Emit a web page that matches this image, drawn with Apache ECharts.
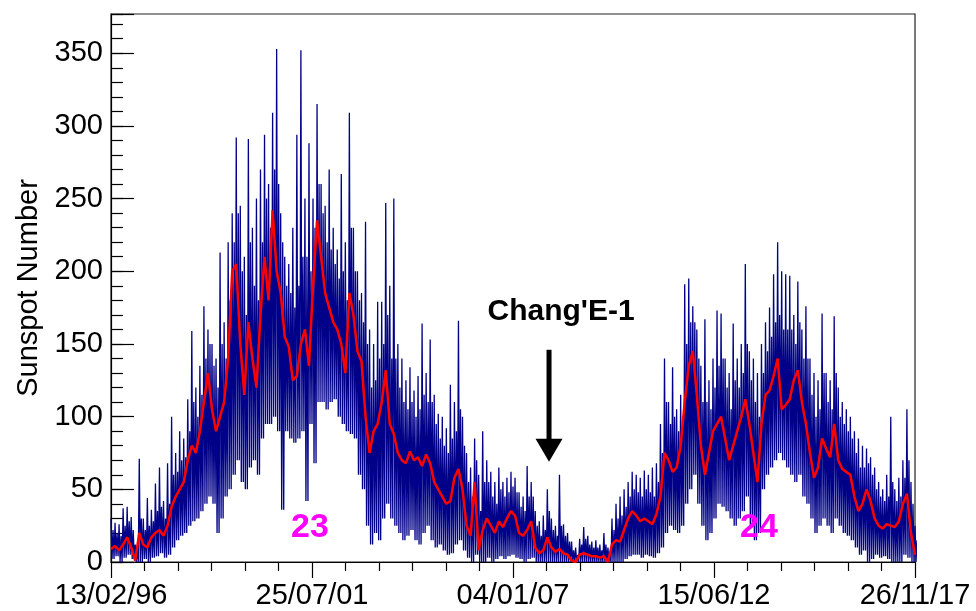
<!DOCTYPE html>
<html>
<head>
<meta charset="utf-8">
<script src="https://cdn.jsdelivr.net/npm/echarts@6/dist/echarts.min.js"></script>
<style>
  html, body { margin: 0; padding: 0; background: #ffffff; }
  #chart { width: 976px; height: 611px; }
</style>
</head>
<body>
<div id="chart"></div>
<script>
// Daily sunspot number, 13/02/1996 - 26/11/2017, in 200 slots of ~40 days.
// dailyHigh: highest daily value in the slot (the spikes),
// dailyTypical: usual upper level of the daily values in the slot,
// dailyLow: lowest daily value in the slot,
// smoothed: running mean of the daily values (red trace).
const START_UTC = Date.UTC(1996, 1, 13);
const TOTAL_DAYS = 7957;            // 13/02/96 .. 26/11/17
const X_DIVISIONS = 4;

const dailyHigh = [
  30, 27, 26, 37, 38, 31, 12, 71, 30, 44,
  36, 54, 65, 42, 68, 100, 75, 90, 85, 112,
  159, 120, 135, 176, 160, 150, 140, 213, 165, 220,
  240, 292, 245, 210, 291, 230, 250, 270, 294, 260,
  309, 353, 240, 210, 205, 230, 294, 352, 250, 288,
  250, 315, 260, 245, 270, 230, 215, 267, 220, 309,
  230, 200, 185, 234, 160, 150, 179, 179, 247, 190,
  250, 150, 140, 125, 134, 118, 128, 164, 130, 153,
  115, 102, 100, 92, 122, 110, 166, 100, 75, 65,
  85, 60, 90, 70, 62, 55, 65, 55, 58, 62,
  58, 48, 45, 66, 55, 35, 28, 32, 50, 30,
  25, 60, 26, 20, 14, 10, 16, 24, 18, 14,
  15, 12, 20, 10, 30, 40, 45, 50, 55, 62,
  60, 58, 63, 60, 65, 68, 95, 140, 110, 134,
  105, 115, 191, 195, 176, 160, 135, 167, 125, 140,
  173, 171, 140, 130, 164, 140, 150, 205, 145, 140,
  130, 150, 165, 175, 198, 220, 200, 198, 197, 170,
  193, 160, 176, 140, 130, 125, 171, 130, 125, 169,
  120, 110, 105, 100, 90, 85, 80, 78, 72, 65,
  55, 50, 60, 100, 50, 58, 70, 105, 55, 25
];

const dailyTypical = [
  22, 20, 18, 25, 28, 22, 8, 30, 22, 25,
  28, 35, 38, 30, 40, 60, 62, 70, 72, 90,
  110, 100, 115, 140, 150, 135, 120, 150, 140, 180,
  220, 240, 200, 170, 220, 190, 180, 220, 250, 230,
  270, 260, 220, 190, 185, 175, 190, 210, 210, 200,
  230, 260, 240, 220, 215, 205, 195, 200, 180, 230,
  200, 180, 165, 150, 120, 125, 140, 150, 170, 140,
  140, 120, 110, 105, 110, 100, 105, 115, 110, 110,
  95, 85, 80, 75, 85, 90, 105, 80, 55, 45,
  70, 35, 55, 55, 45, 40, 50, 45, 48, 52,
  48, 38, 35, 45, 45, 25, 18, 22, 35, 22,
  18, 25, 18, 14, 8, 5, 12, 16, 12, 10,
  10, 8, 12, 5, 22, 30, 32, 38, 45, 50,
  48, 45, 50, 48, 45, 55, 75, 110, 95, 100,
  90, 100, 150, 165, 165, 140, 110, 110, 105, 120,
  135, 140, 120, 105, 125, 120, 130, 150, 125, 110,
  100, 130, 145, 155, 165, 170, 160, 160, 160, 150,
  165, 140, 140, 115, 100, 105, 130, 110, 105, 130,
  100, 95, 90, 85, 75, 65, 65, 68, 60, 50,
  45, 42, 45, 55, 42, 45, 58, 70, 40, 15
];

const dailyLow = [
  2, 4, 0, 3, 5, 2, 0, 0, 2, 0,
  3, 4, 6, 3, 5, 10, 15, 18, 20, 25,
  28, 30, 35, 40, 45, 40, 20, 30, 45, 50,
  60, 70, 55, 50, 65, 70, 60, 85, 95, 95,
  100, 90, 36, 90, 85, 82, 85, 90, 42, 95,
  68, 110, 110, 105, 110, 112, 100, 95, 90, 88,
  85, 60, 50, 25, 12, 20, 15, 30, 40, 30,
  25, 20, 15, 18, 22, 15, 12, 20, 25, 15,
  10, 12, 8, 5, 6, 12, 15, 8, 3, 0,
  5, 0, 0, 3, 0, 2, 4, 2, 4, 5,
  3, 2, 0, 2, 3, 0, 0, 0, 0, 0,
  0, 0, 0, 0, 0, 0, 0, 0, 0, 0,
  0, 0, 0, 0, 0, 0, 0, 2, 4, 5,
  5, 3, 5, 4, 3, 6, 10, 20, 25, 22,
  20, 25, 40, 50, 60, 40, 25, 15, 20, 30,
  40, 38, 35, 30, 25, 30, 35, 45, 25, 15,
  20, 50, 60, 65, 70, 75, 70, 65, 60, 55,
  60, 45, 40, 30, 20, 25, 30, 25, 20, 30,
  25, 20, 18, 15, 10, 5, 8, 0, 2, 5,
  3, 4, 2, 0, 0, 0, 5, 3, 0, 0
];

const smoothed = [
  9, 11, 8, 12, 17, 10, 1, 20, 12, 10,
  17, 20, 22, 18, 25, 38, 45, 50, 55, 70,
  80, 75, 90, 110, 130, 105, 90, 100, 110, 140,
  200, 205, 150, 115, 165, 140, 120, 170, 210, 180,
  242, 200, 185, 155, 148, 125, 128, 150, 160, 135,
  190, 235, 210, 185, 175, 165, 160, 150, 130, 185,
  170, 145, 138, 100, 75, 90, 95, 110, 132, 95,
  88, 75, 70, 68, 76, 70, 72, 66, 74, 68,
  55, 50, 45, 40, 42, 58, 64, 50, 25, 18,
  55, 8, 22, 30, 25, 20, 28, 24, 30, 35,
  32, 20, 18, 22, 28, 10, 6, 8, 17, 10,
  7, 9, 6, 5, 1, 0, 5, 6, 5, 4,
  4, 3, 4, 0, 12, 15, 14, 22, 30, 35,
  32, 28, 30, 28, 26, 33, 45, 75, 70, 62,
  65, 80, 110, 135, 145, 115, 80, 60, 75, 90,
  95, 100, 85, 70, 80, 90, 100, 112, 95, 75,
  55, 95, 115, 118, 128, 140, 105, 108, 112, 125,
  132, 110, 95, 75, 58, 65, 85, 78, 72, 95,
  70, 64, 62, 60, 45, 35, 40, 50, 42, 30,
  25, 23, 26, 25, 24, 28, 40, 47, 20, 5
];

// Annotations, placed in data units (day offset, sunspot number)
const cycleMarks = [
  { text: '23', day: 1969, value: 23.5 },
  { text: '24', day: 6413, value: 23.5 }
];
const missionMark = { text: "Chang'E-1", day: 4335, textDay: 4454, textValue: 172.5, arrowFrom: 146, arrowTo: 69 };

const FONT = "'Liberation Sans', Arial, Helvetica, sans-serif";
const Y_MAX = 377;
const SLOT = TOTAL_DAYS / (smoothed.length - 1);

function dayLabel(d) {
  const t = new Date(START_UTC + Math.floor(d + 1e-6) * 86400000);
  const p = n => String(n).padStart(2, '0');
  return p(t.getUTCDate()) + '/' + p(t.getUTCMonth() + 1) + '/' + p(t.getUTCFullYear() % 100);
}

// Blue trace: within each slot go high -> low -> typical -> low
const bluePoints = [];
dailyHigh.forEach((h, i) => {
  const t = i * SLOT;
  bluePoints.push([t, h]);
  bluePoints.push([t + SLOT / 4, dailyLow[i]]);
  bluePoints.push([t + SLOT / 2, dailyTypical[i]]);
  bluePoints.push([t + 3 * SLOT / 4, dailyLow[i]]);
});
const redPoints = smoothed.map((v, i) => [i * SLOT, v]);

const chart = echarts.init(document.getElementById('chart'), null, { renderer: 'canvas' });

const option = {
  animation: false,
  backgroundColor: '#ffffff',
  grid: {
    left: 111, right: 61, top: 14, bottom: 49,
    show: true, borderColor: '#222', borderWidth: 1.2, backgroundColor: 'transparent'
  },
  xAxis: {
    type: 'value',
    min: 0,
    max: TOTAL_DAYS,
    interval: TOTAL_DAYS / X_DIVISIONS,
    axisLine: { show: true, onZero: false, lineStyle: { color: '#000', width: 1.2 } },
    axisTick: { show: true, inside: false, length: 16, lineStyle: { color: '#000', width: 1.2 } },
    minorTick: { show: true, splitNumber: 6, length: 9, lineStyle: { color: '#000', width: 1.2 } },
    splitLine: { show: false },
    axisLabel: {
      margin: 19, color: '#000', fontSize: 29, fontFamily: FONT,
      formatter: v => dayLabel(v),
      showMinLabel: true, showMaxLabel: true
    }
  },
  yAxis: [
    {
      type: 'value', min: 0, max: Y_MAX, interval: 50,
      name: 'Sunspot Number', nameLocation: 'middle', nameGap: 66, nameRotate: 90,
      nameTextStyle: { fontSize: 29, fontFamily: FONT, color: '#000' },
      axisLine: { show: true, lineStyle: { color: '#000', width: 1.2 } },
      axisTick: { show: true, inside: true, length: 23, lineStyle: { color: '#000', width: 1.2 } },
      splitLine: { show: false },
      axisLabel: {
        margin: 8, color: '#000', fontSize: 29, fontFamily: FONT,
        formatter: v => (v % 50 === 0 ? String(v) : '')
      }
    },
    {
      type: 'value', min: 0, max: Y_MAX, interval: 10, position: 'left', offset: 0,
      axisLine: { show: false },
      axisTick: { show: true, inside: true, length: 12, lineStyle: { color: '#000', width: 1.2 } },
      axisLabel: { show: false },
      splitLine: { show: false }
    }
  ],
  series: [
    {
      name: 'daily',
      type: 'line',
      data: bluePoints,
      showSymbol: false,
      clip: true,
      z: 2,
      lineStyle: { color: '#000088', width: 1.3 },
      itemStyle: { color: '#000088' }
    },
    {
      name: 'smoothed',
      type: 'line',
      data: redPoints,
      showSymbol: false,
      clip: true,
      z: 3,
      lineStyle: { color: '#ff0000', width: 2.5 },
      itemStyle: { color: '#ff0000' }
    }
  ]
};

chart.setOption(option);

// Text and arrow annotations, converted from data units to pixels
function toPx(day, v) {
  return chart.convertToPixel({ xAxisIndex: 0, yAxisIndex: 0 }, [day, v]);
}
const graphics = [];
cycleMarks.forEach(m => {
  const p = toPx(m.day, m.value);
  graphics.push({
    type: 'text', x: p[0], y: p[1], z: 10,
    style: { text: m.text, fill: '#ff00ff', font: 'bold 34px ' + FONT, align: 'center', verticalAlign: 'middle' }
  });
});
const tp = toPx(missionMark.textDay, missionMark.textValue);
graphics.push({
  type: 'text', x: tp[0], y: tp[1], z: 10,
  style: { text: missionMark.text, fill: '#000', font: 'bold 30px ' + FONT, align: 'center', verticalAlign: 'middle' }
});
const a0 = toPx(missionMark.day, missionMark.arrowFrom);
const a1 = toPx(missionMark.day, missionMark.arrowTo);
const headLen = 23, headHalf = 13.5;
graphics.push({
  type: 'line', z: 10,
  shape: { x1: a0[0], y1: a0[1], x2: a1[0], y2: a1[1] - headLen + 2 },
  style: { stroke: '#000', lineWidth: 5 }
});
graphics.push({
  type: 'polygon', z: 10,
  shape: { points: [[a1[0] - headHalf, a1[1] - headLen], [a1[0] + headHalf, a1[1] - headLen], [a1[0], a1[1]]] },
  style: { fill: '#000' }
});
chart.setOption({ graphic: graphics });
</script>
</body>
</html>
